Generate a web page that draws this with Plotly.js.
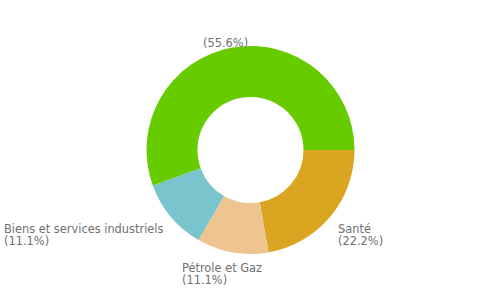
<!DOCTYPE html>
<html>
<head>
<meta charset="utf-8">
<script src="https://cdn.plot.ly/plotly-3.0.1.min.js"></script>
<style>html,body{margin:0;padding:0;background:#fff;}#chart{width:500px;height:300px;}</style>
</head>
<body>
<div id="chart"></div>
<script>
const categories = ["Santé", "Pétrole et Gaz", "Biens et services industriels", ""];
const values = [2, 1, 1, 5];
const colors = ["#DAA520", "#EEC591", "#7AC5CD", "#66CC00"];

const W = 500, H = 300;
const margin = {l: 1, r: 0, t: 46, b: 46};
const rotation = 90;
const plotW = W - margin.l - margin.r, plotH = H - margin.t - margin.b;
const R = Math.min(plotW, plotH) / 2;
const cx = margin.l + plotW / 2, cy = margin.t + plotH / 2;
const total = values.reduce((a, b) => a + b, 0);
const fontSize = 11.4;
const font = {family: "DejaVu Sans", size: fontSize, color: "#707070"};
const lineGap = 12;

const ctx = document.createElement("canvas").getContext("2d");
ctx.font = fontSize + "px 'DejaVu Sans'";

const annotations = [];
let cum = 0;
values.forEach((v, i) => {
  const th = (rotation + (cum + v / 2) / total * 360) * Math.PI / 180;
  cum += v;
  const s = Math.sin(th), c = Math.cos(th);
  const px = cx + (R + 10) * s;
  const py = cy - (R + 10) * c;
  const pct = "(" + (v / total * 100).toFixed(1) + "%)";
  const lines = categories[i] ? [categories[i], pct] : [pct];
  const w = Math.max(...lines.map(t => ctx.measureText(t).width));
  const f = Math.min(1, Math.max(0, 0.5 - 0.66 * s));
  const left = px - f * w;
  lines.forEach((t, k) => {
    const yc = py + 5.4 + k * lineGap;
    annotations.push({
      text: t,
      x: (left - margin.l) / plotW,
      y: 1 - (yc - margin.t) / plotH,
      xref: "paper", yref: "paper",
      xanchor: "left", yanchor: "middle", height: lineGap,
      showarrow: false, font: font, borderpad: 0, borderwidth: 0, align: "left"
    });
  });
});

const trace = {
  type: "pie",
  labels: categories.map(c => c || "Autres"),
  values: values,
  hole: 0.51,
  sort: false,
  direction: "clockwise",
  rotation: rotation,
  marker: {colors: colors, line: {width: 0}},
  textinfo: "none",
  hoverinfo: "label+percent",
  showlegend: false
};

const layout = {
  width: W, height: H,
  margin: margin,
  paper_bgcolor: "#ffffff",
  showlegend: false,
  annotations: annotations
};

Plotly.newPlot("chart", [trace], layout, {displayModeBar: false, staticPlot: true});
</script>
</body>
</html>
